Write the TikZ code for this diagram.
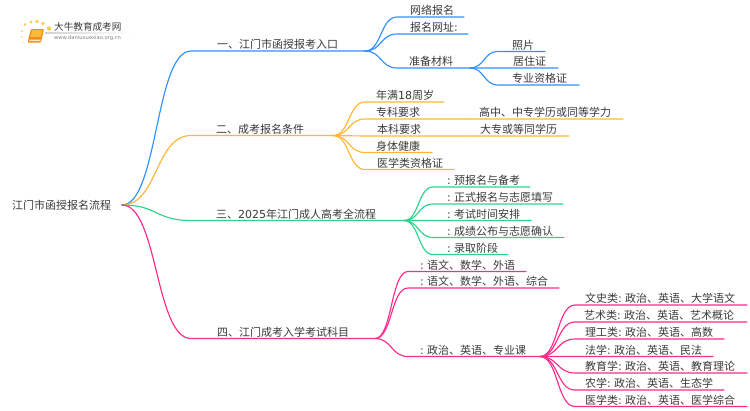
\documentclass[tikz,border=0pt]{standalone}
\usepackage{fontspec}
\setmainfont{Noto Sans CJK SC}
\newfontfamily\latn{DejaVu Sans}
\usetikzlibrary{calc}
\definecolor{cblue}{HTML}{2F90FF}
\definecolor{corange}{HTML}{FFB733}
\definecolor{cgreen}{HTML}{2ED38B}
\definecolor{cpink}{HTML}{FF2A8A}
\definecolor{ctext}{HTML}{3A3A3A}
\definecolor{bookdark}{HTML}{F08A12}
\definecolor{booklight}{HTML}{FFB838}
\definecolor{dotc}{HTML}{FFCB52}
\newcommand{\la}[1]{{\latn #1}}
% \bnode{name}{x start}{x end}{y line}{x text}{text}
\newcommand{\bnode}[6]{%
  \coordinate (#1-s) at (#2,#4);
  \coordinate (#1-e) at (#3,#4+0.04);
  \node[lbl] (#1) at (#5,#4-6.4) {#6};
}
% \conn{colour}{parent}{child}: curved
\newcommand{\conn}[3]{%
  \draw[#1,wire] let \p1=(#2-e),\p2=(#3-s),\n1={(\x2-\x1)*0.52} in
    (#2-e) .. controls (\x1+\n1,\y1) and (\x2-\n1,\y2) .. (#3-s) -- (#3-e);
}
\tikzset{
  lbl/.style={anchor=west,inner sep=0pt,text=ctext,font=\fontsize{11}{13}\selectfont},
  wire/.style={line width=1.15pt,line cap=round},
}
\begin{document}
\begin{tikzpicture}[x=1pt,y=-1pt]
\useasboundingbox (0,0) rectangle (750,410);
% logo
\fill[left color=gray!35,right color=white,draw=none] (45,32.7) rectangle (133,33.6);
\foreach \a/\b/\r in {22/31/1,25/24.5/1.3,31/22/1.6,37/21.5/1.8,43/23.5/1.9,49/28.5/2.2,22/37/.9,23/42/.7}
  \fill[dotc] (\a,\b) circle (\r);
\fill[bookdark,rounded corners=1pt] (31,29) -- (44,29) -- (41,42.5) -- (27.5,42.5) -- cycle;
\fill[booklight] (32,30) -- (42.6,30) -- (41,37) -- (30.4,37) -- cycle;
\fill[white!70!booklight] (29.5,39.5) -- (40.8,39.5) -- (40.5,41) -- (29.2,41) -- cycle;
\node[anchor=west,inner sep=0pt,text=ctext,font=\fontsize{9.6}{11}\selectfont] (logot) at (54,27) {大牛教育成考网};
\node[anchor=west,inner sep=0pt,text=gray,font=\fontsize{5.2}{6}\latn] (logou) at (54,38.5) {www.daniuxuexiao.org.cn};
% root
\node[lbl] (root) at (12,205.6) {江门市函授报名流程};
\coordinate (root-e) at (122,205);
% level 1
\bnode{a}{191}{365}{51}{217}{一、江门市函授报考入口}
\bnode{b}{191}{333}{135.5}{216}{二、成考报名条件}
\bnode{c}{191}{404}{220.5}{216}{三、\la{2025}年江门成人高考全流程}
\bnode{d}{191}{375}{338.5}{217}{四、江门成考入学考试科目}
\conn{cblue}{root}{a}
\conn{corange}{root}{b}
\conn{cgreen}{root}{c}
\conn{cpink}{root}{d}
% branch 1
\bnode{a1}{397}{464}{17}{410}{网络报名}
\bnode{a2}{397}{468}{34}{410}{报名网址\la{:}}
\bnode{a3}{397}{470}{68}{409}{准备材料}
\conn{cblue}{a}{a1}\conn{cblue}{a}{a2}\conn{cblue}{a}{a3}
\bnode{a31}{498}{545}{51.5}{512}{照片}
\bnode{a32}{498}{558}{68}{513}{居住证}
\bnode{a33}{498}{579}{85}{512}{专业资格证}
\conn{cblue}{a3}{a31}\conn{cblue}{a3}{a32}\conn{cblue}{a3}{a33}
% branch 2
\bnode{b1}{365}{444}{102}{376}{年满\la{18}周岁}
\bnode{b2}{365}{470}{119}{376}{专科要求}
\bnode{b3}{365}{470}{136}{377}{本科要求}
\bnode{b4}{365}{432}{152.5}{376}{身体健康}
\bnode{b5}{365}{454}{169.5}{377}{医学类资格证}
\conn{corange}{b}{b1}\conn{corange}{b}{b2}\conn{corange}{b}{b3}\conn{corange}{b}{b4}\conn{corange}{b}{b5}
\bnode{b21}{470}{623}{119}{479}{高中、中专学历或同等学力}
\bnode{b31}{470}{569}{136}{480}{大专或等同学历}
\conn{corange}{b2}{b21}\conn{corange}{b3}{b31}
% branch 3
\bnode{c1}{433}{530}{187}{447}{\la{:} 预报名与备考}
\bnode{c2}{433}{563}{204}{447}{\la{:} 正式报名与志愿填写}
\bnode{c3}{433}{531}{220.5}{447}{\la{:} 考试时间安排}
\bnode{c4}{433}{564}{237.5}{447}{\la{:} 成绩公布与志愿确认}
\bnode{c5}{433}{508}{254.5}{447}{\la{:} 录取阶段}
\conn{cgreen}{c}{c1}\conn{cgreen}{c}{c2}\conn{cgreen}{c}{c3}\conn{cgreen}{c}{c4}\conn{cgreen}{c}{c5}
% branch 4
\bnode{d1}{408}{526}{271.5}{420}{\la{:} 语文、数学、外语}
\bnode{d2}{408}{559}{288}{420}{\la{:} 语文、数学、外语、综合}
\bnode{d3}{408}{540}{356.5}{420}{\la{:} 政治、英语、专业课}
\conn{cpink}{d}{d1}\conn{cpink}{d}{d2}\conn{cpink}{d}{d3}
\bnode{e1}{575}{747}{305}{585}{文史类\la{:} 政治、英语、大学语文}
\bnode{e2}{575}{747}{322}{584}{艺术类\la{:} 政治、英语、艺术概论}
\bnode{e3}{575}{724}{339}{585}{理工类\la{:} 政治、英语、高数}
\bnode{e4}{575}{713}{356.5}{585}{法学\la{:} 政治、英语、民法}
\bnode{e5}{575}{747}{373}{585}{教育学\la{:} 政治、英语、教育理论}
\bnode{e6}{575}{724}{390}{585}{农学\la{:} 政治、英语、生态学}
\bnode{e7}{575}{747}{406.5}{585}{医学类\la{:} 政治、英语、医学综合}
\conn{cpink}{d3}{e1}\conn{cpink}{d3}{e2}\conn{cpink}{d3}{e3}\conn{cpink}{d3}{e4}\conn{cpink}{d3}{e5}\conn{cpink}{d3}{e6}\conn{cpink}{d3}{e7}
\end{tikzpicture}
\end{document}
